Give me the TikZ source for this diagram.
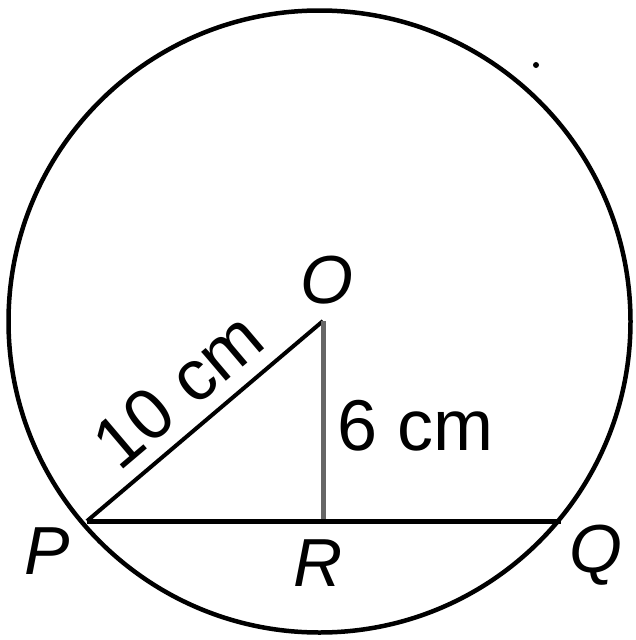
\documentclass[tikz,border=0pt]{standalone}
\usepackage{fontspec}
\setmainfont{Liberation Sans}
\begin{document}
\begin{tikzpicture}[x=1pt,y=-1pt,
  ptlabel/.style={inner sep=0pt,font=\fontsize{68}{80}\selectfont\itshape},
  lenlabel/.style={inner sep=0pt,font=\fontsize{72}{84}\selectfont},
  rim/.style={line width=4.5pt,black},
  seg/.style={line width=4pt,black}]
\useasboundingbox (0,0) rectangle (636,640);
\coordinate (C) at (319.5,321.5);
\coordinate (O) at (323,321);
\coordinate (P) at (87,521);
\coordinate (Q) at (561,521);
\coordinate (R) at (323,521);
\draw[rim] (C) circle[radius=311pt];
\draw[seg] (P) -- (O);
\draw[line width=5pt,black!60] (O) -- (R);
\draw[line width=5pt,black] (P) -- (Q);
\fill (536,65) circle[radius=3pt];
\node[ptlabel] (Olab) at (327,280) {O};
\node[ptlabel] (Plab) at (47,551) {P};
\node[ptlabel] (Rlab) at (318,563) {R};
\node[ptlabel] (Qlab) at (596,555) {Q};
\node[lenlabel,rotate=40.3] (ten) at (178,390) {10 cm};
\node[lenlabel] (six) at (416,426) {6 cm};
\end{tikzpicture}
\end{document}
